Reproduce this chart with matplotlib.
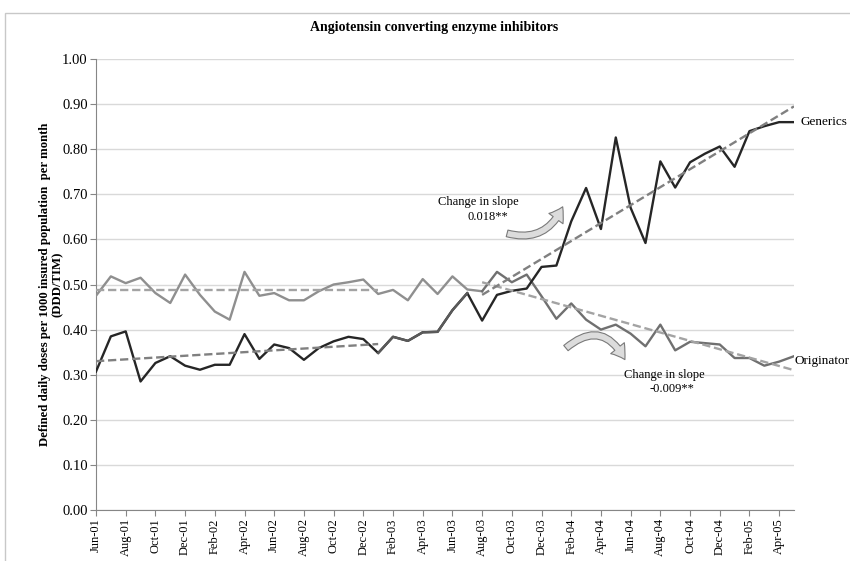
import numpy as np
import matplotlib.pyplot as plt
from matplotlib.patches import FancyArrowPatch, Rectangle

months = ["Jun-01", "Jul-01", "Aug-01", "Sep-01", "Oct-01", "Nov-01", "Dec-01",
          "Jan-02", "Feb-02", "Mar-02", "Apr-02", "May-02", "Jun-02", "Jul-02",
          "Aug-02", "Sep-02", "Oct-02", "Nov-02", "Dec-02", "Jan-03", "Feb-03",
          "Mar-03", "Apr-03", "May-03", "Jun-03", "Jul-03", "Aug-03", "Sep-03",
          "Oct-03", "Nov-03", "Dec-03", "Jan-04", "Feb-04", "Mar-04", "Apr-04",
          "May-04", "Jun-04", "Jul-04", "Aug-04", "Sep-04", "Oct-04", "Nov-04",
          "Dec-04", "Jan-05", "Feb-05", "Mar-05", "Apr-05", "May-05"]

generics = [0.307, 0.385, 0.396, 0.285, 0.326, 0.341, 0.320, 0.311, 0.322, 0.322,
            0.390, 0.335, 0.367, 0.359, 0.333, 0.359, 0.374, 0.384, 0.379, 0.348,
            0.384, 0.375, 0.394, 0.395, 0.443, 0.481, 0.420, 0.477, 0.486, 0.491,
            0.539, 0.542, 0.640, 0.714, 0.623, 0.826, 0.670, 0.592, 0.773, 0.715,
            0.771, 0.790, 0.806, 0.761, 0.840, 0.851, 0.860, 0.860]

originator = [0.475, 0.518, 0.503, 0.515, 0.481, 0.459, 0.522, 0.477, 0.440, 0.422,
              0.528, 0.475, 0.481, 0.465, 0.465, 0.485, 0.500, 0.505, 0.511, 0.479,
              0.488, 0.465, 0.512, 0.479, 0.518, 0.489, 0.485, 0.528, 0.505, 0.522,
              0.474, 0.424, 0.458, 0.422, 0.400, 0.411, 0.391, 0.363, 0.411, 0.354,
              0.373, 0.370, 0.367, 0.337, 0.337, 0.320, 0.329, 0.341]

# fitted segments: (first month index, last month index) and fitted values there
pre_idx = [0, 19]
post_idx = [26, 47]
gen_pre_fit = [0.330, 0.368]
ori_pre_fit = [0.487, 0.487]
gen_post_fit = [0.477, 0.895]
ori_post_fit = [0.505, 0.310]

# transition months drawn in a lighter shade
gen_trans = (19, 25)
ori_post_start = 26

plt.rcParams['font.family'] = ['Liberation Serif', 'DejaVu Serif']

fig = plt.figure(figsize=(8.5, 5.61), dpi=100)
ax = fig.add_axes([96 / 850, 51 / 561, 698 / 850, 451 / 561])
x = np.arange(len(months))

# outer chart border
fig.patches.append(Rectangle((5 / 850, -0.1), 1.2, 0.977 + 0.1, transform=fig.transFigure,
                             fill=False, edgecolor='#c8c8c8', lw=1.0))

lw = 1.7
ax.plot(x[:ori_post_start + 1], originator[:ori_post_start + 1], color='#8f8f8f', lw=lw, zorder=3)
ax.plot(x[ori_post_start:], originator[ori_post_start:], color='#707070', lw=lw, zorder=3)
ax.plot(x, generics, color='#262626', lw=lw, zorder=4)
a, b = gen_trans
ax.plot(x[a:b + 1], generics[a:b + 1], color='#5a5a5a', lw=lw, zorder=4)

dash = (0, (3.5, 1.6))
ax.plot(pre_idx, ori_pre_fit, color='#a3a3a3', lw=lw, ls=dash, zorder=5)
ax.plot(pre_idx, gen_pre_fit, color='#808080', lw=lw, ls=dash, zorder=5)
ax.plot(post_idx, ori_post_fit, color='#a3a3a3', lw=lw, ls=dash, zorder=5)
ax.plot(post_idx, gen_post_fit, color='#808080', lw=lw, ls=dash, zorder=5)

ax.set_xlim(0, 47)
ax.set_ylim(0, 1)
ax.set_yticks(np.arange(0, 1.01, 0.1))
ax.set_yticklabels([f"{v:.2f}" for v in np.arange(0, 1.01, 0.1)], fontsize=10.5)
ax.set_xticks(x[::2])
ax.set_xticklabels(months[::2], rotation=90, fontsize=9)
ax.grid(axis='y', color='#d9d9d9', lw=1)
ax.set_axisbelow(True)
for s in ['top', 'right']:
    ax.spines[s].set_visible(False)
for s in ['left', 'bottom']:
    ax.spines[s].set_color('#868686')
ax.tick_params(axis='both', direction='out', length=4, color='#868686', pad=2)

ax.set_ylabel("Defined daily doses per 1000 insured population  per month\n(DDD/TIM)",
              fontsize=9.2, fontweight='bold', labelpad=-1, linespacing=1.05)
fig.text(434 / 850, 1 - 27 / 561, "Angiotensin converting enzyme inhibitors",
         ha='center', va='center', fontsize=10, fontweight='bold')

# series names at the line ends
ax.text(47.45, generics[-1], "Generics", fontsize=9.5, va='center', ha='left', clip_on=False)
ax.text(47.05, originator[-1] - 0.01, "Originator", fontsize=9.5, va='center', ha='left', clip_on=False)

ax.text(25.75, 0.682, "Change in slope", fontsize=9, ha='center', va='center')
ax.text(25.0, 0.650, "0.018**", fontsize=9, ha='left', va='center')
ax.text(38.3, 0.300, "Change in slope", fontsize=9, ha='center', va='center')
ax.text(38.8, 0.268, "-0.009**", fontsize=9, ha='center', va='center')

arrow_kw = dict(arrowstyle="simple,head_length=0.7,head_width=0.9,tail_width=0.35",
                mutation_scale=14, facecolor='#dcdcdc', edgecolor='#7a7a7a', lw=0.8, zorder=6)
ax.add_patch(FancyArrowPatch((27.5, 0.615), (31.5, 0.678),
                             connectionstyle="arc3,rad=0.45", **arrow_kw))
ax.add_patch(FancyArrowPatch((31.5, 0.355), (35.7, 0.328),
                             connectionstyle="arc3,rad=-0.65", **arrow_kw))

fig.savefig("out.png", dpi=100)
